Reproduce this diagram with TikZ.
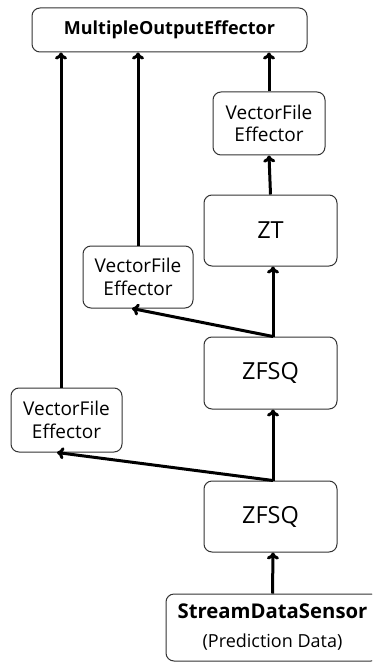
\documentclass[tikz,border=0pt]{standalone}
\usepackage{fontspec}
\setmainfont{Open Sans}
\usetikzlibrary{arrows.meta}

\begin{document}
\begin{tikzpicture}[x=1pt, y=-1pt,
	box/.style={draw=black!80, line width=1pt, rounded corners=8pt, align=center, inner sep=0pt},
	small/.style={font=\fontsize{19}{22.3}\selectfont},
	big/.style={font=\fontsize{23.5}{26}\selectfont},
	flow/.style={line width=3pt, -{To[length=7pt, width=12pt]}}]

	% page frame
	\clip (0,0) rectangle (372,663);
	\useasboundingbox (0,0) rectangle (372,663);

	% top level collector
	\node[box, minimum width=275, minimum height=44, font=\bfseries\fontsize{18}{22}\selectfont] (moe) at (169.5,30) {MultipleOutputEffector};

	% main column
	\node[box, big, minimum width=133, minimum height=71] (zt) at (270.5,230.5) {ZT};
	\node[box, big, minimum width=133, minimum height=72] (zfsqA) at (270.5,373) {ZFSQ};
	\node[box, big, minimum width=133, minimum height=71] (zfsqB) at (270.5,516.5) {ZFSQ};
	\node[box, minimum width=213, minimum height=67, font=\fontsize{18}{29}\selectfont] (sensor) at (272.5,627.5)
		{{\bfseries\fontsize{20.3}{29}\selectfont StreamDataSensor}\\(Prediction Data)};

	% file effectors
	\node[box, small, minimum width=112, minimum height=63] (vfeC) at (269,123.5) {VectorFile\\Effector};
	\node[box, small, minimum width=110, minimum height=62] (vfeB) at (138,277) {VectorFile\\Effector};
	\node[box, small, minimum width=111, minimum height=64] (vfeA) at (66.5,420) {VectorFile\\Effector};

	% data flow up the column
	\draw[flow] (sensor.north) -- ([xshift=2.5pt]zfsqB.south);
	\draw[flow] ([xshift=2.5pt]zfsqB.north) -- ([xshift=2.5pt]zfsqA.south);
	\draw[flow] ([xshift=2.5pt]zfsqA.north) -- ([xshift=2.5pt]zt.south);
	\draw[flow] (zt.north) -- (vfeC.south);
	\draw[flow] (vfeC.north) -- (vfeC.north |- moe.south);

	% side branches
	\draw[flow] ([xshift=2.5pt]zfsqB.north) -- ([xshift=-9.5pt]vfeA.south);
	\draw[flow] ([xshift=2.5pt]zfsqA.north) -- ([xshift=-6pt]vfeB.south);
	\draw[flow] (vfeB.north) -- (vfeB.north |- moe.south);
	\draw[flow] ([xshift=-5.5pt]vfeA.north) -- ([xshift=-5.5pt]vfeA.north |- moe.south);

\end{tikzpicture}
\end{document}
